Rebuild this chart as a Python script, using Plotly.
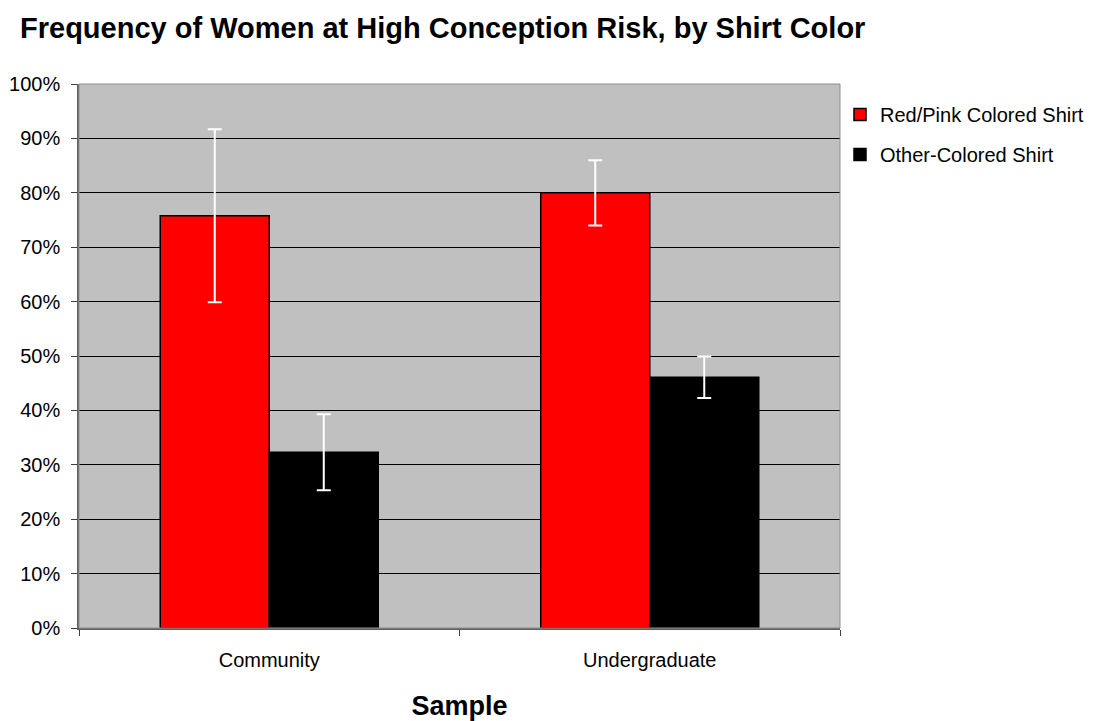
import plotly.graph_objects as go

categories = ["Community", "Undergraduate"]
red_values = [0.758, 0.800]
red_err = [0.159, 0.060]
other_values = [0.323, 0.461]
other_err = [0.070, 0.038]
series_names = ["Red/Pink Colored Shirt", "Other-Colored Shirt"]

FONT = "Liberation Sans, Arial, sans-serif"

fig = go.Figure()
fig.add_trace(go.Bar(
    x=categories, y=red_values, name=series_names[0], legendgroup="a",
    marker=dict(color="#FF0000", line=dict(color="black", width=1.5)),
    error_y=dict(type="data", array=red_err, color="white", thickness=2, width=7),
))
fig.add_trace(go.Bar(
    x=categories, y=other_values, name=series_names[1], legendgroup="b",
    marker=dict(color="#000000", line=dict(color="black", width=1.5)),
    error_y=dict(type="data", array=other_err, color="white", thickness=2, width=7),
))

fig.update_layout(
    width=1094, height=721,
    barmode="group", bargap=0.427, bargroupgap=0,
    paper_bgcolor="white", plot_bgcolor="#C0C0C0",
    margin=dict(l=71, r=262, t=76, b=101, autoexpand=False),
    title=dict(text="<b>Frequency of Women at High Conception Risk, by Shirt Color</b>",
               x=0.011, xanchor="left", y=0.972, yanchor="middle",
               font=dict(family=FONT, size=29, color="black")),
    font=dict(family=FONT, color="black"),
    legend=dict(x=1.0, xanchor="left", y=0.98, yanchor="top",
                font=dict(family=FONT, size=20, color="black"),
                tracegroupgap=11, bgcolor="rgba(0,0,0,0)"),
    showlegend=True,
)
fig.update_xaxes(
    type="category", tickson="boundaries", ticks="outside", ticklen=6,
    tickcolor="#404040", showline=True, linecolor="#606060", linewidth=1.5,
    mirror=False, showgrid=False, ticklabelstandoff=13,
    tickfont=dict(family=FONT, size=20, color="black"),
    title=dict(text="<b>Sample</b>", font=dict(family=FONT, size=27, color="black"), standoff=26),
)
fig.update_yaxes(
    range=[0, 1], dtick=0.1, tickformat=".0%", ticks="outside", ticklen=6,
    tickcolor="#404040", showline=True, linecolor="#606060", linewidth=1.5,
    showgrid=True, gridcolor="black", gridwidth=1, zeroline=False, ticklabelstandoff=7,
    tickfont=dict(family=FONT, size=20, color="black"),
)
# light gray border on top/right of plot area
fig.add_shape(type="rect", xref="paper", yref="paper", x0=0, y0=0, x1=1, y1=1,
              line=dict(color="#909090", width=1), layer="above")

fig.write_html("out.html")
